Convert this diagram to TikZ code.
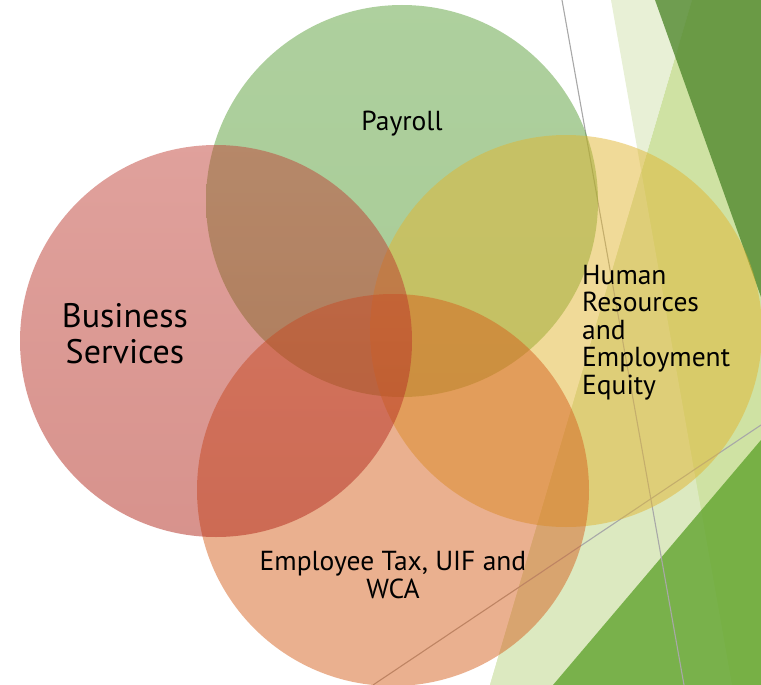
\documentclass[tikz,border=0pt]{standalone}
\usepackage{fontspec}
\setmainfont{PT Sans}
\definecolor{facetpale}{RGB}{207,226,163}
\definecolor{facetlight}{RGB}{225,236,202}
\definecolor{facetdark}{RGB}{81,136,46}
\definecolor{facetgreen}{RGB}{97,164,46}
\definecolor{facetline}{RGB}{168,168,168}
\definecolor{vgreen}{RGB}{93,161,61}
\definecolor{vgreenb}{RGB}{82,153,46}
\definecolor{vyellow}{RGB}{225,181,49}
\definecolor{vorange}{RGB}{213,97,31}
\definecolor{vred}{RGB}{193,67,57}
\definecolor{vredb}{RGB}{176,38,26}
\newcommand\vennfont{\fontsize{27.5}{28}\selectfont}
\newcommand\bigvennfont{\fontsize{34}{36}\selectfont}

\begin{document}
\begin{tikzpicture}[x=1pt, y=-1pt,
  facet/.style={draw=none},
  thinline/.style={facetline, line width=1.1pt},
  venn/.style={draw=none, fill opacity=0.5},
  lbl/.style={inner sep=0pt, text=black, font=\vennfont}]
\useasboundingbox (0,0) rectangle (761,685);

% facets on the right
\fill[facet, facetpale] (692,0) -- (761,0) -- (761,685) -- (490,685) -- cycle;
\fill[facet, facetlight, fill opacity=0.77] (611,0) -- (692,0) -- (490,685) -- (732,685) -- cycle;
\fill[facet, facetdark, fill opacity=0.8] (655,0) -- (761,0) -- (761,297) -- cycle;
\fill[facet, facetgreen, fill opacity=0.8] (761,440) -- (761,685) -- (553,685) -- cycle;
\draw[thinline] (562,0) -- (684,685);
\draw[thinline] (373,685) -- (761,425);

% circles
\shade[venn, top color=vgreen, bottom color=vgreenb] (402,201) circle [radius=196];
\fill[venn, vyellow] (566,331) circle [radius=196];
\fill[venn, vorange] (393,490) circle [radius=196];
\shade[venn, top color=vred, bottom color=vredb] (216,341) circle [radius=196];

% labels
\node[lbl, anchor=base] (payroll) at (402,130) {Payroll};
\node[lbl, font=\bigvennfont, align=center, anchor=north] (business) at (125,303) {Business\\Services};
\node[lbl, font=\fontsize{27.5}{27.5}\selectfont, align=left, anchor=north west] (hr) at (582,265)
  {Human\\Resources\\and\\Employment\\Equity};
\node[lbl, align=center, anchor=north] (tax) at (393,551) {Employee Tax, UIF and\\WCA};
\end{tikzpicture}
\end{document}
